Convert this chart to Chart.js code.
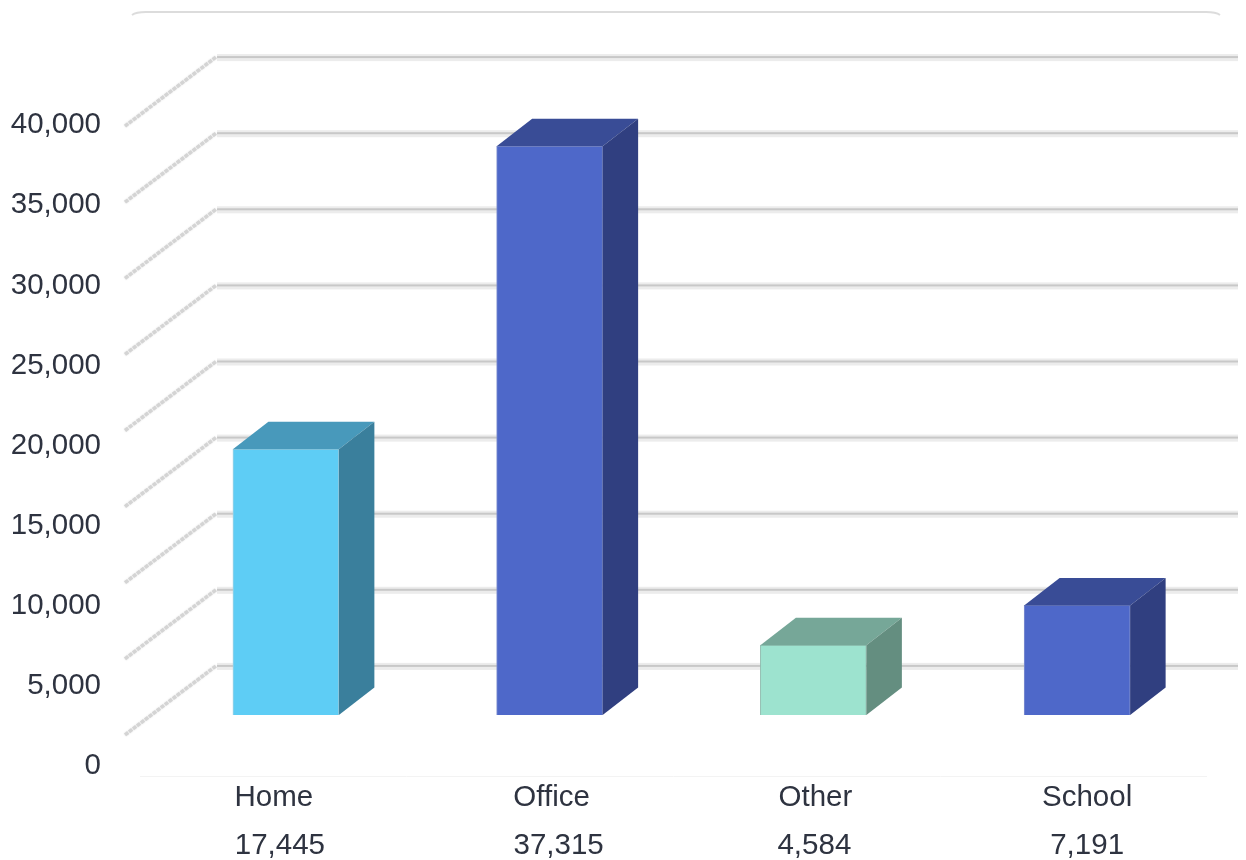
<!DOCTYPE html>
<html>
<head>
<meta charset="utf-8">
<style>
  html, body { margin: 0; padding: 0; background: #fff; }
  canvas { display: block; }
</style>
<script src="https://cdn.jsdelivr.net/npm/chart.js@4"></script>
</head>
<body>
<canvas id="myChart" width="1246" height="860"></canvas>
<script>
const categories = ['Home', 'Office', 'Other', 'School']
const counts = [17445, 37315, 4584, 7191]
const yTickValues = [0, 5000, 10000, 15000, 20000, 25000, 30000, 35000, 40000]
const gridValues = [5000, 10000, 15000, 20000, 25000, 30000, 35000, 40000, 45000]

const frontColors = ['#5ecdf5', '#4e68c9', '#9de3cf', '#4e68c9']
const topColors = ['#4899bb', '#394c96', '#76a798', '#394c96']
const sideColors = ['#3a7f9c', '#303f80', '#648e80', '#303f80']
const edgeColors = ['#a4d3e4', '#7f8fcf', '#8fbcae', '#7f8fcf']

const textColor = '#2e3340'
const fontFamily = '"Liberation Sans", Arial, sans-serif'
const fontSize = 29.5

// plot area in page pixels
const plotTop = 40
const plotBottom = 776
const plotLeft = 154
const plotRight = 1209

const depthX = 35.5
const depthY = 27.5

// the labels, the bars and the back wall each sit on their own vertical scale
function rangeFor(zeroPx, pxPer5000) {
    const unitsPerPx = 5000 / pxPer5000
    return {
        min: (zeroPx - plotBottom) * unitsPerPx,
        max: (zeroPx - plotTop) * unitsPerPx
    }
}

const barRange = rangeFor(715, 76.2)
const labelRange = rangeFor(766, 80.1)
const gridRange = rangeFor(742, 76.1)

// small shifts of the text under the bars [name, value]
const nameNudge = [-12, 2, 2, 10]
const valueNudge = [-6, 9, 1, 10]

const backdrop = {
    id: 'backdrop',
    beforeDatasetsDraw: (chart) => {
        const ctx = chart.ctx
        const yGrid = chart.scales.yGrid
        ctx.save()

        // card edge at the top
        ctx.strokeStyle = '#dcdcdc'
        ctx.lineWidth = 2
        ctx.beginPath()
        ctx.moveTo(132, 15)
        ctx.quadraticCurveTo(136, 12, 146, 12)
        ctx.lineTo(1206, 12)
        ctx.quadraticCurveTo(1216, 12, 1220, 15)
        ctx.stroke()

        // floor line
        ctx.strokeStyle = '#f3f3f3'
        ctx.lineWidth = 1
        ctx.beginPath()
        ctx.moveTo(140, 776.5)
        ctx.lineTo(1207, 776.5)
        ctx.stroke()

        gridValues.forEach((v) => {
            const y = yGrid.getPixelForValue(v)

            ctx.fillStyle = '#ececec'
            ctx.fillRect(217, y - 3, 1021, 7)
            ctx.fillStyle = '#c8c8c8'
            ctx.fillRect(217, y - 1, 1021, 2)

            ctx.save()
            ctx.strokeStyle = '#d4d4d4'
            ctx.lineWidth = 3.5
            ctx.shadowColor = '#e2e2e2'
            ctx.shadowBlur = 2
            ctx.setLineDash([4, 1])
            ctx.beginPath()
            ctx.moveTo(125, y + 69)
            ctx.lineTo(216, y)
            ctx.stroke()
            ctx.restore()
        })
        ctx.restore()
    },
    afterDatasetsDraw: (chart) => {
        const ctx = chart.ctx
        ctx.save()
        chart.getDatasetMeta(0).data.forEach((bar, i) => {
            const left = bar.x - bar.width / 2
            const right = bar.x + bar.width / 2

            ctx.fillStyle = topColors[i]
            ctx.beginPath()
            ctx.moveTo(left, bar.y)
            ctx.lineTo(left + depthX, bar.y - depthY)
            ctx.lineTo(right + depthX, bar.y - depthY)
            ctx.lineTo(right, bar.y)
            ctx.closePath()
            ctx.fill()

            ctx.fillStyle = sideColors[i]
            ctx.beginPath()
            ctx.moveTo(right, bar.y)
            ctx.lineTo(right + depthX, bar.y - depthY)
            ctx.lineTo(right + depthX, bar.base - depthY)
            ctx.lineTo(right, bar.base)
            ctx.closePath()
            ctx.fill()
        })

        // the two rows of text under the bars
        const x = chart.scales.x
        ctx.fillStyle = textColor
        ctx.font = fontSize + 'px ' + fontFamily
        ctx.textAlign = 'center'
        ctx.textBaseline = 'middle'
        categories.forEach((name, i) => {
            const px = x.getPixelForValue(i)
            ctx.fillText(name, px + nameNudge[i], 798)
            ctx.fillText(counts[i].toLocaleString('en-US'), px + valueNudge[i], 846)
        })
        ctx.restore()
    }
}

const data = {
    labels: categories,
    datasets: [{
        data: counts,
        backgroundColor: frontColors,
        borderColor: edgeColors,
        borderWidth: 1,
        barThickness: 106,
        yAxisID: 'y'
    }]
}

const option = {
    responsive: false,
    animation: false,
    layout: {
        padding: { top: plotTop, bottom: 860 - plotBottom, right: 1246 - plotRight, left: 0 }
    },
    plugins: {
        legend: { display: false },
        tooltip: { enabled: false }
    },
    scales: {
        x: {
            display: false
        },
        y: {
            display: false,
            min: barRange.min,
            max: barRange.max
        },
        yGrid: {
            display: false,
            min: gridRange.min,
            max: gridRange.max
        },
        yLabels: {
            position: 'left',
            min: labelRange.min,
            max: labelRange.max,
            grid: { display: false, drawTicks: false },
            border: { display: false },
            afterBuildTicks: (axis) => {
                axis.ticks = yTickValues.map((v) => ({ value: v }))
            },
            afterFit: (axis) => {
                axis.width = plotLeft
                axis.paddingTop = 0
                axis.paddingBottom = 0
            },
            ticks: {
                autoSkip: false,
                padding: 53,
                color: textColor,
                font: { family: fontFamily, size: fontSize },
                callback: (v) => v.toLocaleString('en-US')
            }
        }
    }
}

const config = {
    type: 'bar',
    data: data,
    options: option,
    plugins: [backdrop]
}

const ctx = document.getElementById('myChart').getContext('2d')
const myChart = new Chart(ctx, config)
</script>
</body>
</html>
